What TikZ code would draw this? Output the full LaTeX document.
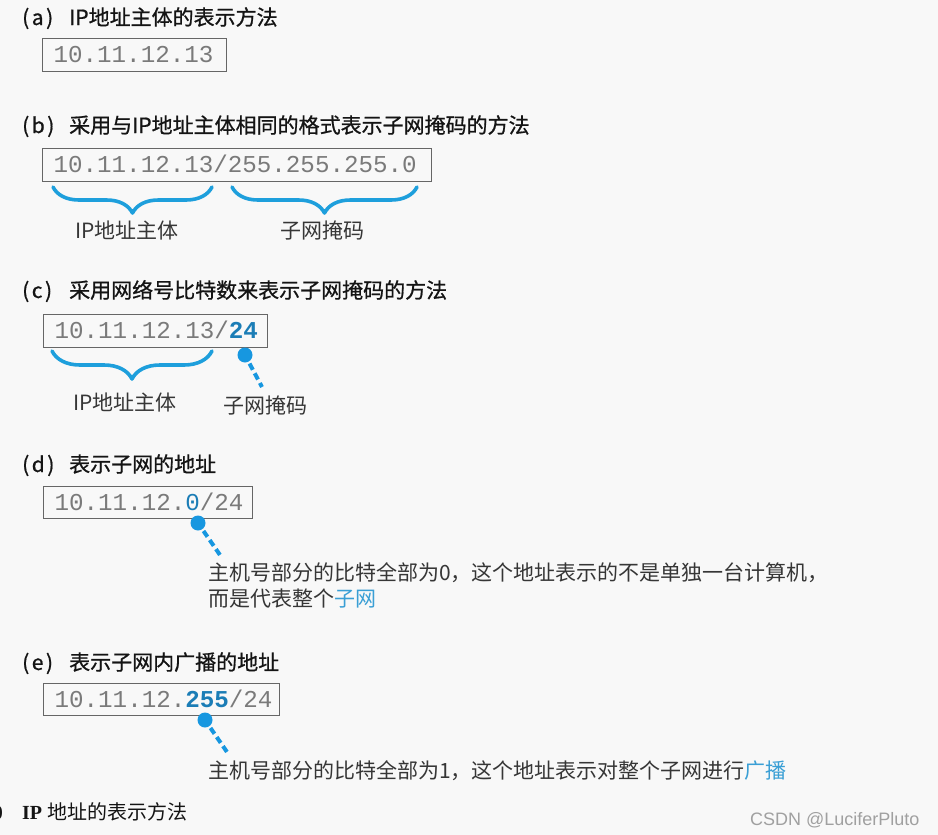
\documentclass[tikz,border=0pt]{standalone}
\usepackage{fontspec}
\usetikzlibrary{decorations.pathreplacing}
\newfontfamily\cjk{Noto Sans CJK SC}
\newfontfamily\cjkt{Noto Sans CJK SC}[FakeBold=0.8]
\newfontfamily\ipmono{Liberation Mono}
\newfontfamily\capserif{Liberation Serif}
\newfontfamily\wmfont{Liberation Sans}
\definecolor{bgc}{HTML}{F8F8F8}
\definecolor{titlec}{HTML}{141414}
\definecolor{labelc}{HTML}{363636}
\definecolor{boxc}{HTML}{666666}
\definecolor{digitc}{HTML}{7A7A7A}
\definecolor{bracec}{HTML}{1E9FDC}
\definecolor{dotc}{HTML}{1797E0}
\definecolor{hic}{HTML}{1B7DB6}
\definecolor{hitext}{HTML}{3A9FD5}
\definecolor{wmc}{HTML}{A0A0A0}
\tikzset{
  ttl/.style={anchor=base west, inner sep=0pt, font=\cjkt\fontsize{21}{24}\selectfont, text=titlec},
  lbl/.style={anchor=base west, inner sep=0pt, font=\cjk\fontsize{21}{24}\selectfont, text=labelc},
  ipbox/.style={draw=boxc, line width=1.3pt, anchor=north west, inner xsep=11pt, inner ysep=0pt,
    align=left, minimum height=33pt, text height=15pt, text depth=0pt,
    font=\ipmono\fontsize{24.2}{26}\selectfont, text=digitc},
  brc/.style={draw=bracec, line width=3.6pt, line cap=round, line join=round,
    decorate, decoration={brace, mirror, amplitude=#1}},
  dotn/.style={circle, fill=dotc, inner sep=0pt, minimum size=15pt},
  dashc/.style={draw=dotc, line width=4pt, dash pattern=on 7pt off 4pt, shorten <=2pt},
}
\newcommand{\tlabel}[1]{\makebox[47pt][l]{(\hspace{2.5pt}#1\hspace{2.5pt})}}
\begin{document}
\begin{tikzpicture}[x=1pt,y=-1pt]
\fill[bgc] (0,0) rectangle (938,835);
\useasboundingbox (0,0) rectangle (938,835);

% (a)
\node[ttl] (ta) at (22,25) {\tlabel{a}IP地址主体的表示方法};
\node[ipbox, text width=162pt] (ba) at (42,38) {10.11.12.13};

% (b)
\node[ttl] (tb) at (22,133) {\tlabel{b}采用与IP地址主体相同的格式表示子网掩码的方法};
\node[ipbox, text width=367pt] (bb) at (42,148) {10.11.12.13/255.255.255.0};
\coordinate (b1l) at (53,187); \coordinate (b1r) at (212,187);
\coordinate (b2l) at (232,187); \coordinate (b2r) at (417,187);
\draw[brc=26pt] (b1l) -- (b1r);
\draw[brc=26pt] (b2l) -- (b2r);
\node[lbl] (lb1) at (75,238) {IP地址主体};
\node[lbl] (lb2) at (280,238) {子网掩码};

% (c)
\node[ttl] (tc) at (22,298) {\tlabel{c}采用网络号比特数来表示子网掩码的方法};
\node[ipbox, text width=202pt] (bc) at (43,314) {10.11.12.13/\textcolor{hic}{\bfseries 24}};
\coordinate (c1l) at (52,351); \coordinate (c1r) at (212,351);
\draw[brc=28pt] (c1l) -- (c1r);
\node[lbl] (lc1) at (73,410) {IP地址主体};
\node[lbl] (lc2) at (223,413) {子网掩码};
\node[dotn] (dc) at (245,355) {};
\coordinate (ec) at (262,387);
\draw[dashc] (dc) -- (ec);

% (d)
\node[ttl] (td) at (22,472) {\tlabel{d}表示子网的地址};
\node[ipbox, text width=187pt, minimum height=32pt] (bd) at (43,486) {10.11.12.\textcolor{hic}{0}/24};
\node[dotn] (dd) at (198,523) {};
\coordinate (ed) at (220,555);
\draw[dashc] (dd) -- (ed);
\node[lbl] (ld1) at (208,580) {主机号部分的比特全部为0，这个地址表示的不是单独一台计算机，};
\node[lbl] (ld2) at (208,606) {而是代表整个\textcolor{hitext}{子网}};

% (e)
\node[ttl] (te) at (22,670) {\tlabel{e}表示子网内广播的地址};
\node[ipbox, text width=214pt, minimum height=32pt] (be) at (43,683) {10.11.12.\textcolor{hic}{\bfseries 255}/24};
\node[dotn] (de) at (205,720) {};
\coordinate (ee) at (227,752);
\draw[dashc] (de) -- (ee);
\node[lbl] (le1) at (208,778) {主机号部分的比特全部为1，这个地址表示对整个子网进行\textcolor{hitext}{广播}};

% caption
\node[anchor=base east, inner sep=0pt, font=\capserif\bfseries\fontsize{20}{22}\selectfont, text=titlec] (cap0) at (3,819) {0};
\node[anchor=base west, inner sep=0pt, font=\capserif\bfseries\fontsize{20}{22}\selectfont, text=titlec] (cap1) at (22,819) {IP};
\node[anchor=base west, inner sep=0pt, font=\cjk\fontsize{20}{22}\selectfont, text=titlec] (cap2) at (47,819) {地址的表示方法};

% watermark
\node[anchor=base west, inner sep=0pt, font=\wmfont\fontsize{18}{20}\selectfont, text=wmc] (wm) at (750,825) {CSDN @LuciferPluto};
\end{tikzpicture}
\end{document}
